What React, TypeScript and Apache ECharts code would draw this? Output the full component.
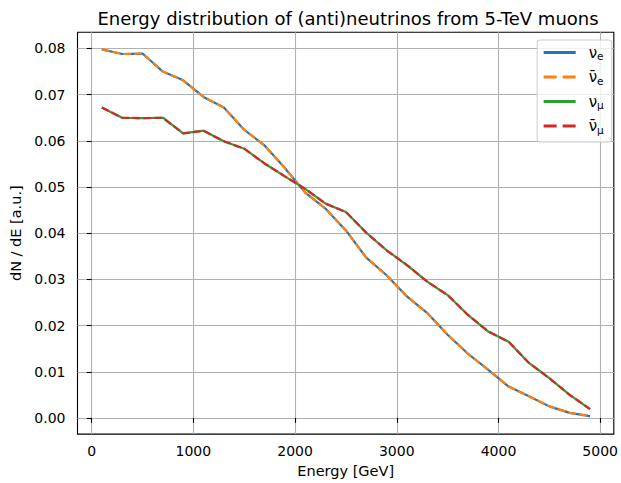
import React, { useEffect, useRef } from "react";
import * as echarts from "echarts";

const energy = [100, 300, 500, 700, 900, 1100, 1300, 1500, 1700, 1900, 2100, 2300, 2500, 2700, 2900, 3100, 3300, 3500, 3700, 3900, 4100, 4300, 4500, 4700, 4900];
const nuE = [0.0798, 0.0788, 0.0789, 0.0750, 0.0731, 0.0695, 0.0672, 0.0624, 0.0590, 0.0541, 0.0488, 0.0453, 0.0406, 0.0347, 0.0309, 0.0263, 0.0227, 0.0180, 0.0139, 0.0104, 0.0068, 0.0047, 0.0025, 0.0011, 0.0004];
const nuMu = [0.0672, 0.0650, 0.0649, 0.0650, 0.0616, 0.0622, 0.0599, 0.0583, 0.0551, 0.0523, 0.0496, 0.0464, 0.0446, 0.0401, 0.0363, 0.0331, 0.0295, 0.0266, 0.0223, 0.0187, 0.0165, 0.0119, 0.0086, 0.0050, 0.0019];
const nuEBar = nuE.slice();
const nuMuBar = nuMu.slice();
const xTicks = [0, 1000, 2000, 3000, 4000, 5000];
const yTicks = [0, 0.01, 0.02, 0.03, 0.04, 0.05, 0.06, 0.07, 0.08];
const seriesNames = ["νe", "ν̄e", "νμ", "ν̄μ"];
const legendLabels: Record<string, string> = {
  "νe": "{n|ν}{s|e}",
  "ν̄e": "{n|ν̄}{s|e}",
  "νμ": "{n|ν}{s|μ}",
  "ν̄μ": "{n|ν̄}{s|μ}",
};

const FONT = "DejaVu Sans";

export default function App() {
  const ref = useRef<HTMLDivElement>(null);
  useEffect(() => {
    if (!ref.current) return;
    const chart = echarts.init(ref.current, null, { renderer: "svg" });
    const pairs = (vals: number[]) => energy.map((e, i) => [e, vals[i]]);
    const dash = [7.7, 3.3];
    const legendDash = [13, 6];
    const lw = 2.2;
    chart.setOption({
      animation: false,
      backgroundColor: "#fff",
      textStyle: { fontFamily: FONT },
      title: {
        text: "Energy distribution of (anti)neutrinos from 5-TeV muons",
        left: 343,
        textAlign: "center",
        top: 4,
        textStyle: { fontFamily: FONT, fontSize: 18, fontWeight: "normal", color: "#000" },
      },
      grid: {
        left: 77.5,
        right: 1.7,
        top: 32.3,
        bottom: 48.5,
        show: true,
        borderColor: "#000",
        borderWidth: 1.1,
        backgroundColor: "transparent",
      },
      legend: {
        orient: "vertical",
        right: 9.3,
        top: 40,
        itemWidth: 32,
        itemHeight: 14,
        itemGap: 8,
        padding: [5, 8, 7, 5],
        backgroundColor: "rgba(255,255,255,0.8)",
        borderColor: "#cccccc",
        borderWidth: 1,
        borderRadius: 3,
        data: [
          { name: seriesNames[0], lineStyle: { type: "solid" } },
          { name: seriesNames[1], lineStyle: { type: legendDash } },
          { name: seriesNames[2], lineStyle: { type: "solid" } },
          { name: seriesNames[3], lineStyle: { type: legendDash } },
        ],
        itemStyle: { opacity: 0 },
        lineStyle: { width: 3 },
        formatter: (name: string) => legendLabels[name],
        textStyle: {
          fontFamily: FONT,
          color: "#000",
          rich: {
            n: { fontSize: 15, fontFamily: FONT, color: "#000", lineHeight: 18, padding: [0, 0, 0, 8] },
            s: { fontSize: 10.5, fontFamily: FONT, color: "#000", padding: [7, 0, 0, 0] },
          },
        },
      },
      xAxis: {
        type: "value",
        min: -139,
        max: 5134,
        name: "Energy [GeV]",
        nameLocation: "middle",
        nameGap: 28,
        nameTextStyle: { fontFamily: FONT, fontSize: 14.5, color: "#000" },
        axisLine: { show: false },
        axisTick: { show: true, length: 4.9, inside: false, customValues: xTicks, lineStyle: { color: "#000", width: 1.1 } },
        axisLabel: { customValues: xTicks, fontFamily: FONT, fontSize: 14, color: "#000", margin: 10, formatter: (v: number) => String(v) },
        splitLine: { show: true, lineStyle: { color: "#b0b0b0", width: 1.1 } },
      },
      yAxis: {
        type: "value",
        min: -0.0035,
        max: 0.0835,
        name: "dN / dE [a.u.]",
        nameLocation: "middle",
        nameGap: 51.5,
        nameTextStyle: { fontFamily: FONT, fontSize: 14.5, color: "#000" },
        axisLine: { show: false },
        axisTick: { show: true, length: 4.9, inside: false, customValues: yTicks, lineStyle: { color: "#000", width: 1.1 } },
        axisLabel: {
          customValues: yTicks,
          fontFamily: FONT,
          fontSize: 14,
          color: "#000",
          margin: 12,
          formatter: (v: number) => v.toFixed(2),
        },
        splitLine: { show: true, lineStyle: { color: "#b0b0b0", width: 1.1 } },
      },
      series: [
        { name: seriesNames[0], type: "line", data: pairs(nuE), symbol: "none", color: "#1f77b4", lineStyle: { width: lw, color: "#1f77b4" }, z: 2 },
        { name: seriesNames[1], type: "line", data: pairs(nuEBar), symbol: "none", color: "#ff7f0e", lineStyle: { width: lw, color: "#ff7f0e", type: dash }, z: 3 },
        { name: seriesNames[2], type: "line", data: pairs(nuMu), symbol: "none", color: "#2ca02c", lineStyle: { width: lw, color: "#2ca02c" }, z: 4 },
        { name: seriesNames[3], type: "line", data: pairs(nuMuBar), symbol: "none", color: "#d62728", lineStyle: { width: lw, color: "#d62728", type: dash }, z: 5 },
      ],
    });
    return () => chart.dispose();
  }, []);
  return <div ref={ref} style={{ width: 621, height: 483, position: "fixed", left: 0, top: 0 }} />;
}
